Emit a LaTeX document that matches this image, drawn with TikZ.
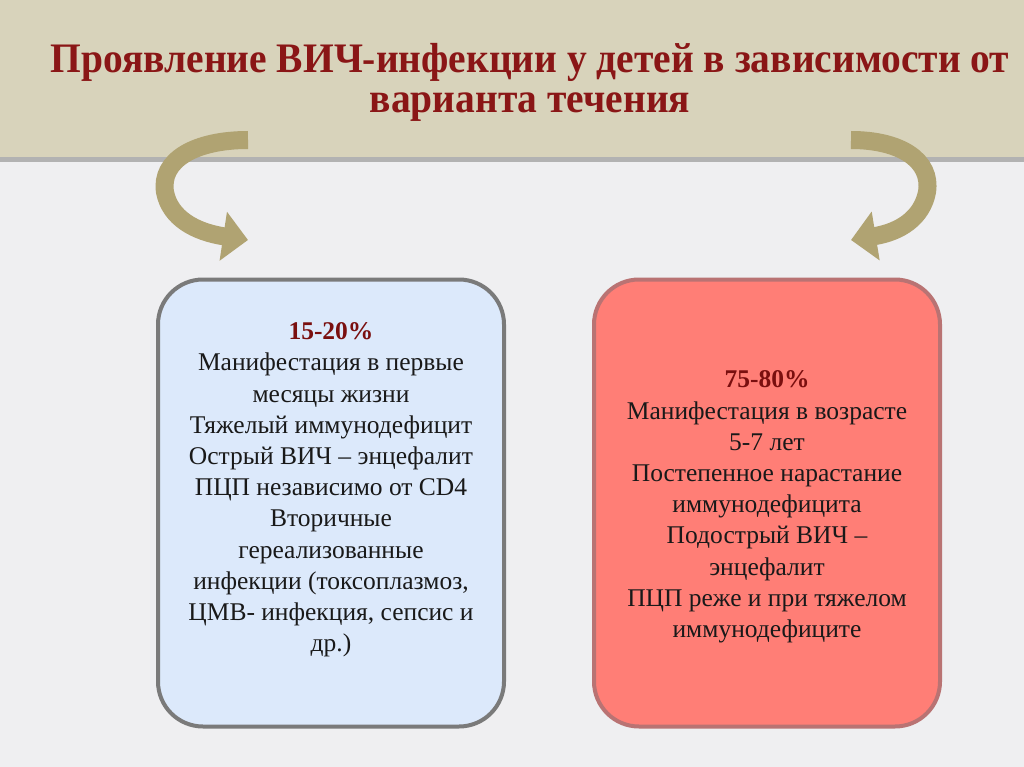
\documentclass[tikz,border=0pt]{standalone}
\usepackage{fontspec}
\setmainfont{Liberation Serif}
\newfontfamily\headfont[FakeStretch=0.94]{Liberation Serif}
\usetikzlibrary{arrows.meta}
\definecolor{bandcol}{HTML}{D8D3BB}
\definecolor{pagecol}{HTML}{EFEFF1}
\definecolor{titlered}{HTML}{8A1616}
\definecolor{pctred}{HTML}{7A0F0F}
\definecolor{bluefill}{HTML}{DCE9FB}
\definecolor{redfill}{HTML}{FF7E76}
\definecolor{arrowcol}{HTML}{B0A372}
\tikzset{
  panel/.style={draw=#1, line width=4pt, rounded corners=45pt,
    minimum width=346pt, minimum height=447pt, inner sep=0pt},
  paneltext/.style={align=center, text=black!90,
    font=\fontsize{25.5}{31.2}\selectfont},
  heading/.style={text=titlered, align=center,
    font=\headfont\fontsize{42}{40.5}\selectfont\bfseries},
  curlarrow/.style={draw=arrowcol, line width=18pt,
    -{Triangle[length=25pt,width=48pt]}}
}
\begin{document}
\begin{tikzpicture}[x=1pt,y=-1pt]
  \useasboundingbox (0,0) rectangle (1024,767);
  \fill[pagecol] (0,0) rectangle (1024,767);
  \fill[bandcol] (0,0) rectangle (1024,159);
  \fill[black!30] (0,157) rectangle (1024,162);

  \node[heading, anchor=base] (title) at (530,113)
    {Проявление ВИЧ-инфекции у детей в зависимости от\\ варианта течения};

  \node[panel=black!52, fill=bluefill] (left) at (331,503) {};
  \node[panel=black!50!red!55, fill=redfill] (right) at (767,503) {};

  \node[paneltext] (lt) at (331,490) {{\bfseries\color{pctred}15-20\%}\\
    Манифестация в первые\\ месяцы жизни\\ Тяжелый иммунодефицит\\
    Острый ВИЧ -- энцефалит\\ ПЦП независимо от CD4\\ Вторичные\\
    гереализованные\\ инфекции (токсоплазмоз,\\ ЦМВ- инфекция, сепсис и\\ др.)};
  \node[paneltext] (rt) at (767,507) {{\bfseries\color{pctred}75-80\%}\\
    Манифестация в возрасте\\ 5-7 лет\\ Постепенное нарастание\\
    иммунодефицита\\ Подострый ВИЧ --\\ энцефалит\\ ПЦП реже и при тяжелом\\
    иммунодефиците};

  \coordinate (la) at (248,140);
  \coordinate (lb) at (248,240);
  \coordinate (ra) at (851,140);
  \coordinate (rb) at (851,240);
  \draw[curlarrow] (la) .. controls (195,140) and (160,160) .. (165,192)
    .. controls (170,218) and (195,232) .. (lb);
  \draw[curlarrow] (ra) .. controls (900,140) and (932,160) .. (927,192)
    .. controls (922,218) and (900,232) .. (rb);
\end{tikzpicture}
\end{document}
